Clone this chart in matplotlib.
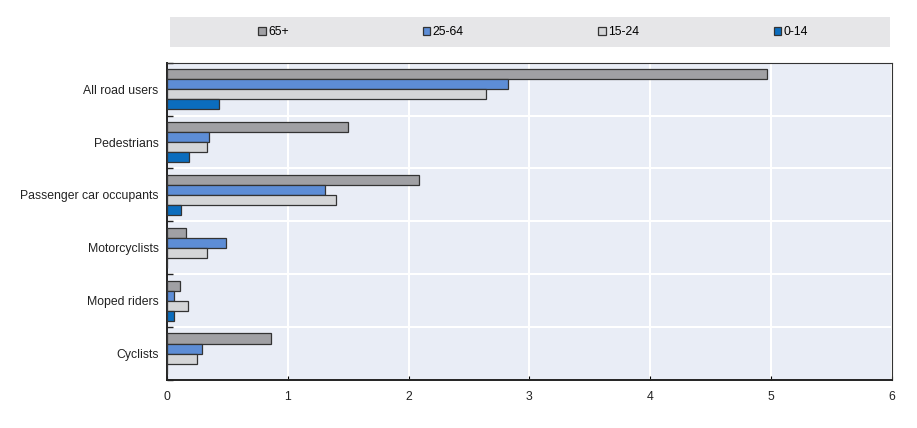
import matplotlib
matplotlib.use('Agg')
import matplotlib.pyplot as plt
from matplotlib import font_manager
import numpy as np
from matplotlib.patches import Rectangle

# narrow font if there is one, otherwise a smaller regular one
try:
    font_manager.findfont('Liberation Sans Narrow', fallback_to_default=False)
    fam, fs = 'Liberation Sans Narrow', 10
except ValueError:
    fam, fs = 'Liberation Sans', 8.8
plt.rcParams['font.family'] = [fam, 'DejaVu Sans']

categories = ['All road users', 'Pedestrians', 'Passenger car occupants',
              'Motorcyclists', 'Moped riders', 'Cyclists']
series_names = ['65+', '25-64', '15-24', '0-14']
v65 = [4.97, 1.50, 2.09, 0.16, 0.11, 0.86]
v25 = [2.82, 0.35, 1.31, 0.49, 0.06, 0.29]
v15 = [2.64, 0.33, 1.40, 0.33, 0.17, 0.25]
v00 = [0.43, 0.18, 0.12, 0.0, 0.06, 0.0]
xticks = [0, 1, 2, 3, 4, 5, 6]

colors = ['#A0A0A4', '#5D8DD6', '#D4D5D7', '#0B6DBE']
values = [v65, v25, v15, v00]

fig = plt.figure(figsize=(9.17, 4.28), dpi=100)
ax = fig.add_axes([167 / 917, 1 - 380 / 428, (891.7 - 167) / 917, (380 - 62.7) / 428])
ax.set_facecolor('#E9EDF6')

n = len(categories)
y = np.arange(n)
h = 0.19
for i, (vals, c) in enumerate(zip(values, colors)):
    ax.barh(y + (i - 1.5) * h, vals, height=h, color=c, edgecolor='#333333',
            linewidth=0.9, label=series_names[i], zorder=3)

ax.set_xlim(0, 6)
ax.set_ylim(n - 0.5, -0.5)
ax.set_xticks(xticks)
ax.set_xticklabels([str(t) for t in xticks], fontsize=fs, color='#222222')
ax.set_yticks(y)
ax.set_yticklabels(categories, fontsize=fs, color='#222222')
ax.tick_params(axis='y', length=0, pad=6)
ax.tick_params(axis='x', direction='in', length=3, pad=8)
ax.set_yticks(np.arange(n + 1) - 0.5, minor=True)
ax.tick_params(axis='y', which='minor', direction='in', length=4, width=1, color='#222222')
ax.grid(axis='x', color='white', linewidth=1.5, zorder=1)
ax.grid(axis='y', which='minor', color='white', linewidth=1.5, zorder=1)
for s in ['top', 'right']:
    ax.spines[s].set_linewidth(0.8)
    ax.spines[s].set_color('#333333')
for s in ['left', 'bottom']:
    ax.spines[s].set_linewidth(1.4)
    ax.spines[s].set_color('#222222')

# legend band
band = Rectangle((170 / 917, 1 - 47 / 428), (890 - 170) / 917, 30 / 428,
                 transform=fig.transFigure, facecolor='#E6E6E8', edgecolor='none')
fig.patches.append(band)
handles, labels = ax.get_legend_handles_labels()
fig.legend(handles, labels, loc='center', ncol=4,
           bbox_to_anchor=(533 / 917, 1 - 32 / 428), frameon=False,
           fontsize=fs, handlelength=0.6, handleheight=0.6, handletextpad=0.2,
           columnspacing=11.0)

fig.savefig('out.png', dpi=100)
